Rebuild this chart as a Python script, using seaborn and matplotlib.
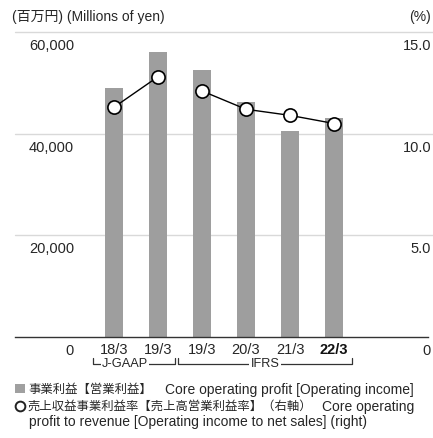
import numpy as np
import pandas as pd
import matplotlib
matplotlib.use("Agg")
import matplotlib.pyplot as plt
import seaborn as sns
from matplotlib.lines import Line2D
from matplotlib.patches import Rectangle
from matplotlib.transforms import blended_transform_factory, offset_copy

# ---- data ----
periods = ["18/3", "19/3", "19/3", "20/3", "21/3", "22/3"]
standards = ["J-GAAP", "J-GAAP", "IFRS", "IFRS", "IFRS", "IFRS"]
core_profit = [48900, 56000, 52600, 46300, 40600, 43000]      # 百万円
margin = [11.3, 12.8, 12.1, 11.2, 10.9, 10.5]                 # %
left_ticks = [0, 20000, 40000, 60000]
left_labels = ["0", "20,000", "40,000", "60,000"]
right_ticks = [0, 5, 10, 15]
right_labels = ["0", "5.0", "10.0", "15.0"]
title_left = "(百万円) (Millions of yen)"
title_right = "(%)"
legend_bar_jp = "事業利益【営業利益】"
legend_bar_en = "Core operating profit [Operating income]"
legend_line_jp = "売上収益事業利益率【売上高営業利益率】（右軸）"
legend_line_en1 = "Core operating"
legend_line_en2 = "profit to revenue [Operating income to net sales] (right)"

df = pd.DataFrame({"pos": range(len(periods)), "period": periods, "std": standards,
                   "profit": core_profit, "margin": margin})

sns.set_theme(style="white")
plt.rcParams["font.family"] = ["Liberation Sans", "Noto Sans CJK JP", "DejaVu Sans"]

W, H = 433, 439
TXT = "#262626"
BAR = "#9e9e9e"
GRID = "#d9d9d9"
TICK_FS = 10.5
EN_FS = 10
JP_FS = 8.9

fig = plt.figure(figsize=(W / 100, H / 100), dpi=100)
ax_l, ax_r, ax_t, ax_b = 15, 428, 33, 338
ax = fig.add_axes([ax_l / W, 1 - ax_b / H, (ax_r - ax_l) / W, (ax_b - ax_t) / H])

sns.barplot(data=df, x="pos", y="profit", native_scale=True, width=0.41,
            color=BAR, saturation=1, linewidth=0, ax=ax)

ax.set_ylim(0, 60000)
ax.set_xlim(-2.25, 7.136)
for s in ["top", "left", "right"]:
    ax.spines[s].set_visible(False)
ax.spines["bottom"].set_color("#333333")
ax.spines["bottom"].set_linewidth(1.0)
for t in left_ticks[1:]:
    ax.axhline(t, xmin=0, xmax=(W - ax_l) / (ax_r - ax_l), color=GRID, lw=1.0,
               zorder=0, clip_on=False)
ax.set_yticks([])
ax.set_ylabel("")
ax.set_xlabel("")
ax.set_xticks(df["pos"], periods)
ax.tick_params(axis="x", length=0, pad=3.5, labelsize=TICK_FS, labelcolor=TXT)
for lbl in ax.get_xticklabels():
    if lbl.get_text() == "22/3":
        lbl.set_fontweight("bold")
        lbl.set_color("#111111")

# right axis for margin
ax2 = ax.twinx()
sns.lineplot(data=df, x="pos", y="margin", units="std", estimator=None,
             color="black", lw=1.0, marker="o", markersize=9.5,
             markerfacecolor="white", markeredgecolor="black",
             markeredgewidth=1.2, ax=ax2, legend=False)
ax2.set_ylim(0, 15)
ax2.set_yticks([])
ax2.set_ylabel("")
ax2.set_xlabel("")
for s in ["top", "left", "right", "bottom"]:
    ax2.spines[s].set_visible(False)
ax.set_xlim(-2.25, 7.136)

# y tick labels, placed under gridlines
trL = offset_copy(blended_transform_factory(fig.transFigure, ax.transData), fig=fig, y=-13, units="dots")
for t, l in zip(left_ticks, left_labels):
    fig.text(74 / W, t, l, transform=trL, ha="right", va="center", fontsize=TICK_FS, color=TXT)
trR = offset_copy(blended_transform_factory(fig.transFigure, ax2.transData), fig=fig, y=-13, units="dots")
for t, l in zip(right_ticks, right_labels):
    fig.text(431 / W, t, l, transform=trR, ha="right", va="center", fontsize=TICK_FS, color=TXT)

def fy(y):
    return 1 - y / H

# titles
fig.text(12 / W, fy(17), title_left, ha="left", va="center", fontsize=EN_FS, color=TXT)
fig.text(431 / W, fy(17), title_right, ha="right", va="center", fontsize=EN_FS, color=TXT)

# accounting standard brackets
trB = blended_transform_factory(ax.transData, fig.transFigure)
groups = [("J-GAAP", -0.48, 0.39, 0.25), ("IFRS", -0.55, 0.41, None)]
for name, lo, hi, tx in groups:
    sub = df[df["std"] == name]["pos"]
    x0, x1 = sub.min() + lo, sub.max() + hi
    xs = [x0, x0, x1, x1]
    ys = [fy(359), fy(365), fy(365), fy(359)]
    fig.add_artist(Line2D(xs, ys, transform=trB, color="#333333", lw=0.9))
    xc = (x0 + x1) / 2 if tx is None else sub.min() + tx
    fig.text(xc, fy(364), name, transform=trB, ha="center", va="center", fontsize=9.2,
             color=TXT, bbox=dict(boxstyle="square,pad=0.1", fc="white", ec="none"))

# legend
fig.add_artist(Rectangle((15 / W, fy(394)), 10 / W, 9 / H, transform=fig.transFigure,
                         color="#a0a0a0", lw=0))
fig.text(28 / W, fy(390), legend_bar_jp, ha="left", va="center", fontsize=JP_FS, color=TXT)
fig.text(165 / W, fy(390), legend_bar_en, ha="left", va="center", fontsize=EN_FS, color=TXT)
fig.add_artist(Line2D([20 / W], [fy(407)], transform=fig.transFigure, marker="o",
                      ms=7, mfc="white", mec="#222222", mew=1.4, ls="none"))
fig.text(28 / W, fy(407), legend_line_jp, ha="left", va="center", fontsize=JP_FS, color=TXT)
fig.text(322 / W, fy(407), legend_line_en1, ha="left", va="center", fontsize=EN_FS, color=TXT)
fig.text(29 / W, fy(422), legend_line_en2, ha="left", va="center", fontsize=EN_FS, color=TXT)

fig.savefig("out.png", dpi=100)
